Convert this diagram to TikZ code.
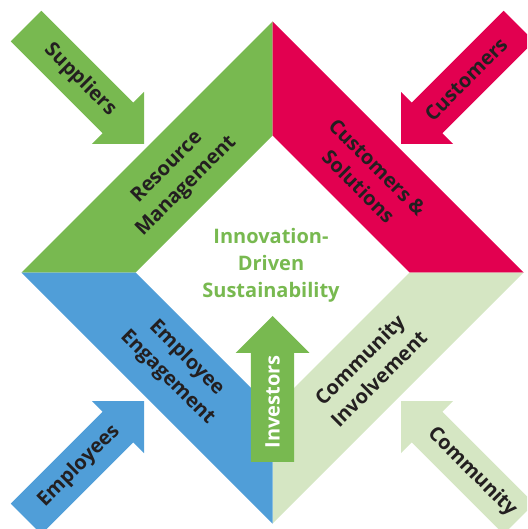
\documentclass[tikz,border=0pt]{standalone}
\usepackage{fontspec}
\setmainfont{Open Sans}
\definecolor{cgreen}{RGB}{120,185,80}
\definecolor{cred}{RGB}{226,0,80}
\definecolor{cblue}{RGB}{80,158,216}
\definecolor{clight}{RGB}{213,230,195}
\definecolor{txt}{RGB}{35,31,32}
\begin{document}
\begin{tikzpicture}[x=1pt,y=-1pt,
  lbl/.style={font=\fontsize{20}{27}\selectfont\bfseries, text=txt, align=center, inner sep=0pt},
  flowarrow/.pic={\fill[pic actions] (-36.8-#1,-21.6) -- (-36.8,-21.6) -- (-36.8,-36.8) -- (0,0)
      -- (-36.8,36.8) -- (-36.8,21.6) -- (-36.8-#1,21.6) -- cycle;}
]
\useasboundingbox (0,0) rectangle (527,529);
\clip (0,0) rectangle (527,529);
% bands
\fill[cgreen] (272.5,21.5) -- (272.5,135.5) -- (135.5,272.5) -- (21.5,272.5) -- cycle;
\fill[cred] (272.5,21.5) -- (523.5,272.5) -- (409.5,272.5) -- (272.5,135.5) -- cycle;
\fill[clight] (409.5,272.5) -- (523.5,272.5) -- (272.5,523.5) -- (272.5,409.5) -- cycle;
\fill[cblue] (21.5,272.5) -- (135.5,272.5) -- (272.5,409.5) -- (272.5,523.5) -- cycle;
% arrows
\pic[fill=cgreen, rotate=-45] at (144,144) {flowarrow=130};
\pic[fill=cred, rotate=-135] at (401,144) {flowarrow=130};
\pic[fill=cblue, rotate=45] at (144,401) {flowarrow=130};
\pic[fill=clight, rotate=135] at (401,401) {flowarrow=130};
\pic[fill=cgreen, rotate=90] at (272.5,316) {flowarrow=109};
% labels
\node[lbl, rotate=-45] (suppliers) at (80,80) {Suppliers};
\node[lbl, rotate=45] (customers) at (466,79) {Customers};
\node[lbl, rotate=45] (employees) at (79,466) {Employees};
\node[lbl, rotate=-45] (community) at (472,472) {Community};
\node[lbl, rotate=45] (resmgmt) at (177,177) {Resource\\Management};
\node[lbl, rotate=-45] (custsol) at (368,177) {Customers \&\\Solutions};
\node[lbl, rotate=-45] (empeng) at (177,368) {Employee\\Engagement};
\node[lbl, rotate=45] (comminv) at (369,369) {Community\\Involvement};
\node[lbl, text=cgreen] (center) at (271,265) {Innovation-\\Driven\\Sustainability};
\node[lbl, text=white, rotate=90] (investors) at (272.5,402) {Investors};
\end{tikzpicture}
\end{document}
